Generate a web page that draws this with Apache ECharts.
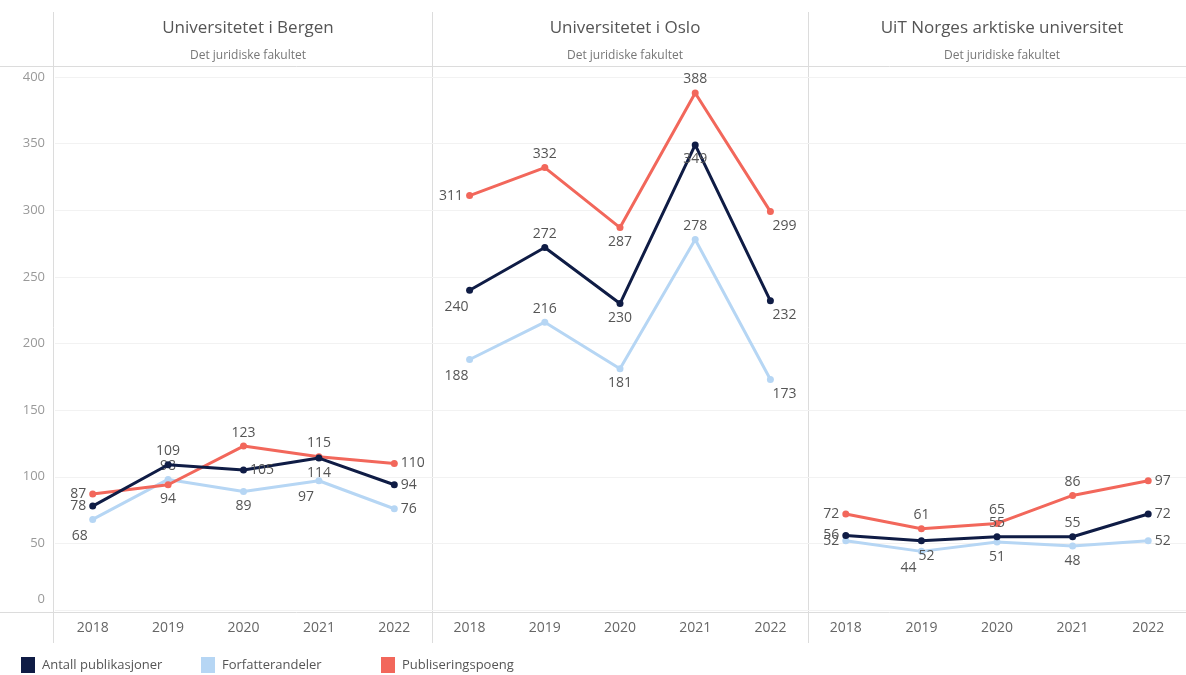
<!DOCTYPE html>
<html>
<head>
<meta charset="utf-8">
<script src="https://cdn.jsdelivr.net/npm/echarts@6/dist/echarts.min.js"></script>
<style>
  html, body { margin: 0; padding: 0; background: #fff; }
  #chart { width: 1186px; height: 675px; }
</style>
</head>
<body>
<div id="chart"></div>
<script>
// kategorier og verdier lest av bildet
const years = ['2018', '2019', '2020', '2021', '2022'];
const panels = ['Universitetet i Bergen', 'Universitetet i Oslo', 'UiT Norges arktiske universitet'];
const subTitle = 'Det juridiske fakultet';
const yTicks = [0, 50, 100, 150, 200, 250, 300, 350, 400];

const antallBergen = [78, 109, 105, 114, 94];
const forfatterBergen = [68, 98, 89, 97, 76];
const poengBergen = [87, 94, 123, 115, 110];

const antallOslo = [240, 272, 230, 349, 232];
const forfatterOslo = [188, 216, 181, 278, 173];
const poengOslo = [311, 332, 287, 388, 299];

const antallUiT = [56, 52, 55, 55, 72];
const forfatterUiT = [52, 44, 51, 48, 52];
const poengUiT = [72, 61, 65, 86, 97];

// hvor etikettene står (t=top, b=bottom, l=left, r=right, bl/br = under til venstre/høyre)
const posAntall = [['l', 't', 'r', 'b', 'r'], ['bl', 't', 'b', 'b', 'br'], ['l', 'bn', 't', 't', 'r']];
const posForfatter = [['bl', 't', 'b', 'bl', 'r'], ['bl', 't', 'b', 't', 'br'], ['l', 'bl', 'b', 'b', 'r']];
const posPoeng = [['l', 'b', 't', 't', 'r'], ['l', 't', 'b', 't', 'br'], ['l', 't', 't', 't', 'r']];

const colAntall = '#0f1c45';
const colForfatter = '#b6d6f4';
const colPoeng = '#f2675b';

const font = 'Open Sans';

function lbl (p) {
  switch (p) {
    case 't': return { position: 'top', offset: [0, 1] };
    case 'b': return { position: 'bottom', offset: [0, 0] };
    case 'l': return { position: 'left', offset: [1, 0] };
    case 'r': return { position: 'right', offset: [-1, 0] };
    case 'bl': return { position: 'bottom', offset: [-13, 2] };
    case 'br': return { position: 'bottom', offset: [14, 0] };
    case 'bn': return { position: 'bottom', offset: [5, 1] };
  }
}

function mkData (vals, pos) {
  return vals.map((v, i) => ({ value: v, label: lbl(pos[i]) }));
}

const gridLefts = [55, 432, 808];
const gridWidths = [377, 376, 378];
const panelCenters = [243, 620, 997];

const grids = [], xAxes = [], yAxes = [], titles = [], series = [];
const allAntall = [antallBergen, antallOslo, antallUiT];
const allForfatter = [forfatterBergen, forfatterOslo, forfatterUiT];
const allPoeng = [poengBergen, poengOslo, poengUiT];

for (let g = 0; g < 3; g++) {
  grids.push({ left: gridLefts[g], width: gridWidths[g], top: 77, bottom: 65 });
  xAxes.push({
    type: 'category',
    gridIndex: g,
    data: years,
    boundaryGap: true,
    axisLine: { show: false },
    axisTick: { show: false },
    axisLabel: { color: '#666', fontSize: 14, fontFamily: font, margin: 11 }
  });
  yAxes.push({
    type: 'value',
    gridIndex: g,
    min: 0,
    max: 400,
    interval: 50,
    axisLine: { show: false },
    axisTick: { show: false },
    axisLabel: {
      show: g === 0, color: '#999', fontSize: 13, fontFamily: font, margin: 10,
      // 0 står litt over linjen som i originalen
      formatter: v => (v === 0 ? '{z|0}' : String(v)),
      rich: { z: { color: '#999', fontSize: 13, fontFamily: font, padding: [0, 0, 22, 0] } }
    },
    splitLine: { lineStyle: { color: '#f2f2f2', width: 1 } }
  });
  titles.push({
    text: panels[g],
    subtext: subTitle,
    left: panelCenters[g],
    top: 15,
    textAlign: 'center',
    itemGap: 13,
    textStyle: { color: '#555', fontSize: 17, fontWeight: 'normal', fontFamily: font },
    subtextStyle: { color: '#777', fontSize: 12, fontFamily: font }
  });
  const common = {
    type: 'line',
    xAxisIndex: g,
    yAxisIndex: g,
    symbol: 'circle',
    symbolSize: 7,
    lineStyle: { width: 3 },
    label: { show: true, color: '#555', fontSize: 14, fontFamily: font, distance: 4 }
  };
  series.push(Object.assign({}, common, {
    name: 'Forfatterandeler',
    data: mkData(allForfatter[g], posForfatter[g]),
    itemStyle: { color: colForfatter },
    lineStyle: { width: 3, color: colForfatter },
    z: 2
  }));
  series.push(Object.assign({}, common, {
    name: 'Publiseringspoeng',
    data: mkData(allPoeng[g], posPoeng[g]),
    itemStyle: { color: colPoeng },
    lineStyle: { width: 3, color: colPoeng },
    z: 3
  }));
  series.push(Object.assign({}, common, {
    name: 'Antall publikasjoner',
    data: mkData(allAntall[g], posAntall[g]),
    itemStyle: { color: colAntall },
    lineStyle: { width: 3, color: colAntall },
    z: 4
  }));
}

const legendNames = ['Antall publikasjoner', 'Forfatterandeler', 'Publiseringspoeng'];
const legendLefts = [16, 196, 376];
const legends = legendNames.map((n, i) => ({
  data: [n],
  left: legendLefts[i],
  top: 652,
  icon: 'rect',
  itemWidth: 14,
  itemHeight: 16,
  itemGap: 0,
  textStyle: { color: '#555', fontSize: 13, fontFamily: font, padding: [0, 0, 0, 2] }
}));

// rammelinjer som i Tableau
const frameStyle = { stroke: '#dcdcdc', lineWidth: 1 };
const graphics = [
  { type: 'line', shape: { x1: 0, y1: 66.5, x2: 1186, y2: 66.5 }, style: frameStyle, silent: true },
  { type: 'line', shape: { x1: 0, y1: 612.5, x2: 1186, y2: 612.5 }, style: frameStyle, silent: true },
  { type: 'line', shape: { x1: 53.5, y1: 12, x2: 53.5, y2: 643 }, style: frameStyle, silent: true },
  { type: 'line', shape: { x1: 432.5, y1: 12, x2: 432.5, y2: 643 }, style: frameStyle, silent: true },
  { type: 'line', shape: { x1: 808.5, y1: 12, x2: 808.5, y2: 643 }, style: frameStyle, silent: true }
];

const option = {
  animation: false,
  backgroundColor: '#fff',
  title: titles,
  legend: legends,
  grid: grids,
  xAxis: xAxes,
  yAxis: yAxes,
  series: series,
  graphic: graphics
};

const myChart = echarts.init(document.getElementById('chart'));
myChart.setOption(option);
</script>
</body>
</html>
